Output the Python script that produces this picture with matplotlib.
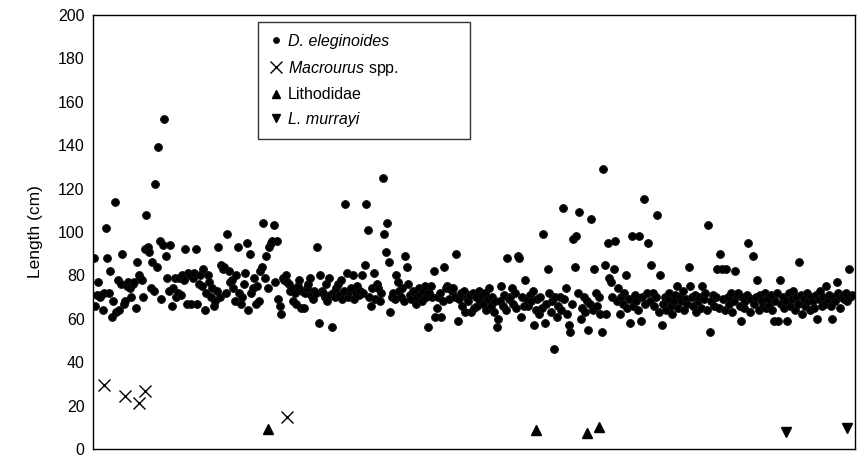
import matplotlib
matplotlib.use("Agg")
import matplotlib.pyplot as plt
import numpy as np

plt.rcParams['font.family'] = ['Liberation Sans', 'DejaVu Sans']
plt.rcParams['mathtext.fontset'] = 'custom'
plt.rcParams['mathtext.it'] = 'Liberation Sans:italic'
plt.rcParams['mathtext.rm'] = 'Liberation Sans'

# D. eleginoides lengths (cm), in sample order
toothfish = [
    88, 66, 71, 77, 70, 71, 64, 72, 102, 88,
    72, 82, 61, 68, 114, 63, 78, 64, 76, 90,
    67, 68, 75, 77, 74, 70, 76, 77, 65, 86,
    80, 79, 78, 70, 92, 108, 93, 91, 74, 86,
    73, 122, 84, 139, 96, 69, 94, 152, 89, 79,
    73, 94, 66, 74, 79, 70, 72, 79, 71, 80,
    78, 92, 67, 81, 80, 67, 79, 81, 92, 67,
    76, 80, 75, 83, 64, 72, 80, 77, 70, 74,
    66, 68, 73, 93, 70, 85, 83, 84, 72, 99,
    82, 77, 78, 74, 68, 80, 93, 72, 67, 70,
    76, 81, 95, 64, 90, 72, 74, 79, 67, 75,
    68, 82, 84, 104, 79, 89, 74, 93, 95, 96,
    103, 77, 96, 69, 66, 62, 79, 78, 80, 77,
    76, 73, 74, 68, 72, 67, 75, 78, 65, 73,
    65, 72, 74, 76, 79, 71, 69, 73, 72, 93,
    58, 80, 73, 72, 70, 76, 68, 79, 71, 56,
    72, 70, 74, 76, 71, 78, 69, 73, 113, 81,
    70, 73, 74, 80, 69, 72, 75, 71, 73, 80,
    72, 85, 113, 101, 70, 66, 74, 81, 69, 76,
    74, 68, 72, 125, 99, 91, 104, 86, 63, 70,
    72, 69, 80, 77, 73, 70, 74, 68, 89, 84,
    76, 71, 69, 73, 72, 67, 70, 74, 71, 68,
    73, 75, 70, 56, 72, 75, 70, 82, 61, 65,
    70, 72, 61, 68, 84, 74, 75, 69, 74, 73,
    74, 70, 90, 59, 69, 72, 66, 73, 63, 70,
    68, 71, 63, 72, 65, 70, 66, 73, 68, 71,
    67, 72, 64, 69, 74, 66, 70, 63, 68, 56,
    60, 68, 75, 66, 71, 64, 88, 69, 70, 74,
    67, 72, 65, 89, 88, 61, 70, 66, 78, 69,
    66, 71, 68, 73, 57, 64, 69, 62, 70, 65,
    99, 58, 67, 83, 72, 63, 68, 46, 70, 61,
    66, 70, 64, 111, 69, 74, 62, 57, 54, 67,
    97, 84, 98, 72, 109, 60, 65, 70, 63, 68,
    55, 67, 106, 64, 83, 72, 66, 70, 62, 54,
    129, 85, 62, 95, 79, 77, 70, 83, 96, 68,
    74, 62, 70, 67, 72, 80, 65, 69, 58, 98,
    66, 71, 68, 64, 98, 59, 70, 115, 67, 72,
    95, 68, 85, 72, 66, 70, 108, 63, 80, 57,
    67, 70, 64, 69, 72, 66, 62, 68, 71, 75,
    65, 70, 68, 73, 64, 69, 67, 84, 75, 70,
    66, 71, 63, 68, 70, 65, 75, 69, 72, 64,
    103, 54, 68, 71, 66, 70, 83, 65, 90, 83,
    69, 64, 83, 70, 67, 72, 63, 68, 82, 71,
    72, 66, 59, 70, 65, 68, 71, 95, 63, 69,
    89, 67, 70, 78, 64, 71, 68, 66, 72, 65,
    69, 66, 71, 64, 59, 68, 72, 59, 78, 67,
    70, 65, 68, 59, 72, 66, 69, 73, 64, 70,
    67, 86, 71, 62, 69, 66, 72, 68, 64, 70,
    68, 65, 71, 60, 69, 73, 66, 70, 67, 75,
    69, 71, 66, 60, 70, 68, 77, 72, 65, 70,
    71, 69, 72, 68, 83, 70, 71,
]

# Bycatch: sample index and length (cm)
macrourus_idx = [7, 21, 30, 34, 129]
macrourus_len = [29.5, 24.4, 21.0, 26.7, 14.9]
lithodidae_idx = [116, 295, 329, 337]
lithodidae_len = [9.2, 8.8, 7.4, 10.1]
murrayi_idx = [462, 503]
murrayi_len = [7.8, 9.7]

y_ticks = [0, 20, 40, 60, 80, 100, 120, 140, 160, 180, 200]

fig = plt.figure(figsize=(8.67, 4.59), dpi=100)
ax = fig.add_axes([0.1073, 0.0218, 0.8787, 0.9455])

x = np.arange(len(toothfish))
ax.plot(x, toothfish, linestyle='none', marker='o', ms=5.6, mfc='black',
        mec='#111111', mew=0.7, label='D. eleginoides')
ax.plot(macrourus_idx, macrourus_len, linestyle='none', marker='x', ms=9,
        mew=1.0, color='black', label=r'$\it{Macrourus}$ spp.')
ax.plot(lithodidae_idx, lithodidae_len, linestyle='none', marker='^', ms=6.5,
        color='black', label='Lithodidae')
ax.plot(murrayi_idx, murrayi_len, linestyle='none', marker='v', ms=6.5,
        color='black', label='L. murrayi')

ax.set_xlim(-0.5, 508)
ax.set_ylim(0, 200)
ax.set_yticks(y_ticks)
ax.set_xticks([])
ax.tick_params(axis='y', direction='out', length=0, labelsize=11.5, pad=6)
ax.set_ylabel('Length (cm)', fontsize=12.5, labelpad=11)
for s in ax.spines.values():
    s.set_linewidth(1.0)
    s.set_color('black')

leg = ax.legend(loc='upper left', bbox_to_anchor=(0.2165, 0.7235, 0.278, 0.2605),
                mode='expand', frameon=True, fancybox=False, shadow=False,
                fontsize=11.5, labelspacing=0.6, handlelength=0.7,
                handletextpad=0.4, borderpad=0.75, borderaxespad=0.0)
leg.get_frame().set_edgecolor('black')
leg.get_frame().set_linewidth(1.0)
for h, size in zip(leg.legend_handles, [4.2, 8.0, 6.0, 6.0]):
    h.set_markersize(size)
texts = leg.get_texts()
texts[0].set_fontstyle('italic')
texts[3].set_fontstyle('italic')

fig.savefig('out.png', dpi=100)
